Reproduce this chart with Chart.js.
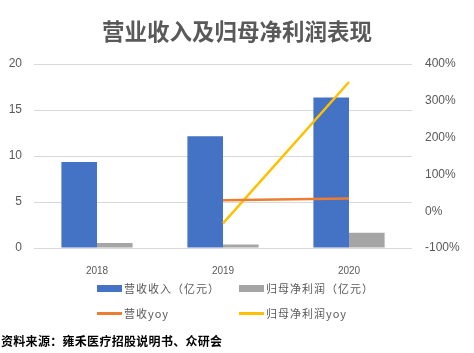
<!DOCTYPE html>
<html><head><meta charset="utf-8">
<script src="https://cdn.jsdelivr.net/npm/chart.js@4/dist/chart.umd.min.js"></script>
<style>
html,body{margin:0;padding:0;background:#fff;}
#wrap{position:relative;width:474px;height:353px;overflow:hidden;font-family:"Noto Sans CJK SC","Noto Sans",sans-serif;}
#title{position:absolute;left:0;top:15px;width:474px;text-align:center;font-size:22.5px;font-weight:bold;color:#595959;line-height:30px;}
canvas{position:absolute;left:0;top:0;}
.lg{position:absolute;font-size:11px;letter-spacing:1px;color:#595959;line-height:14px;white-space:nowrap;}
.sw{position:absolute;}
#src{position:absolute;left:1px;top:332px;font-size:12px;letter-spacing:0.3px;font-weight:bold;color:#000;line-height:17px;white-space:nowrap;}
</style></head><body>
<div id="wrap">
<canvas id="c" width="474" height="353"></canvas>
<div id="title">营业收入及归母净利润表现</div>
<div id="src">资料来源：雍禾医疗招股说明书、众研会</div>
</div>
<script>
const categories = ["2018", "2019", "2020"];
const revenue = [9.35, 12.14, 16.35];
const netProfit = [0.55, 0.37, 1.67];
const revenueYoy = [null, 29.8, 34.7];
const netProfitYoy = [null, -33, 351];
const leftTicks = [0, 5, 10, 15, 20];
const rightTicks = [-100, 0, 100, 200, 300, 400];
const seriesNames = ["营收收入（亿元）", "归母净利润（亿元）", "营收yoy", "归母净利润yoy"];
const colors = ["#4472C4", "#A5A5A5", "#ED7D31", "#FFC000"];

// HTML legend
const wrap = document.getElementById('wrap');
const pos = [[97, 288, 'box'], [239, 288, 'box'], [97, 313, 'line'], [239, 313, 'line']];
seriesNames.forEach((n, i) => {
  const [x, y, t] = pos[i];
  const sw = document.createElement('div');
  sw.className = 'sw';
  sw.style.left = x + 'px';
  sw.style.width = '25px';
  sw.style.background = colors[i];
  if (t === 'box') { sw.style.top = (y - 3.5) + 'px'; sw.style.height = '7px'; }
  else { sw.style.top = (y - 1.5) + 'px'; sw.style.height = '3px'; }
  wrap.appendChild(sw);
  const tx = document.createElement('div');
  tx.className = 'lg';
  tx.style.left = (x + 27) + 'px';
  tx.style.top = (y - 7.5) + 'px';
  tx.textContent = n;
  wrap.appendChild(tx);
});

const tickFont = {family: '"Liberation Sans","DejaVu Sans",sans-serif', size: 12};
new Chart(document.getElementById('c'), {
  data: {
    labels: categories,
    datasets: [
      {type: 'line', label: seriesNames[2], data: revenueYoy, yAxisID: 'y2', borderColor: colors[2], backgroundColor: colors[2], borderWidth: 2.5, pointRadius: 0, tension: 0, order: 0},
      {type: 'line', label: seriesNames[3], data: netProfitYoy, yAxisID: 'y2', borderColor: colors[3], backgroundColor: colors[3], borderWidth: 2.5, pointRadius: 0, tension: 0, order: 0},
      {type: 'bar', label: seriesNames[0], data: revenue, yAxisID: 'y', backgroundColor: colors[0], categoryPercentage: 0.565, barPercentage: 1, order: 1},
      {type: 'bar', label: seriesNames[1], data: netProfit, yAxisID: 'y', backgroundColor: colors[1], categoryPercentage: 0.565, barPercentage: 1, order: 1}
    ]
  },
  options: {
    responsive: false,
    animation: false,
    layout: {padding: {top: 64, bottom: 75, left: 0, right: 0}},
    plugins: {legend: {display: false}, tooltip: {enabled: false}, title: {display: false}},
    scales: {
      x: {
        grid: {display: false}, border: {display: false},
        ticks: {color: '#595959', font: {family: '"Liberation Sans","DejaVu Sans",sans-serif', size: 10}, padding: 9},
        afterFit: s => { s.height = 30; }
      },
      y: {
        position: 'left', min: 0, max: 20,
        afterBuildTicks: s => { s.ticks = leftTicks.map(v => ({value: v})); },
        grid: {color: '#D9D9D9', lineWidth: 1, drawTicks: false},
        border: {display: false},
        ticks: {color: '#595959', font: tickFont, padding: 12},
        afterFit: s => { s.width = 34; }
      },
      y2: {
        position: 'right', min: -100, max: 400,
        afterBuildTicks: s => { s.ticks = rightTicks.map(v => ({value: v})); },
        grid: {display: false, drawTicks: false},
        border: {display: false},
        ticks: {color: '#595959', font: tickFont, padding: 13, callback: v => v + '%'},
        afterFit: s => { s.width = 62; }
      }
    }
  }
});
</script>
</body></html>
